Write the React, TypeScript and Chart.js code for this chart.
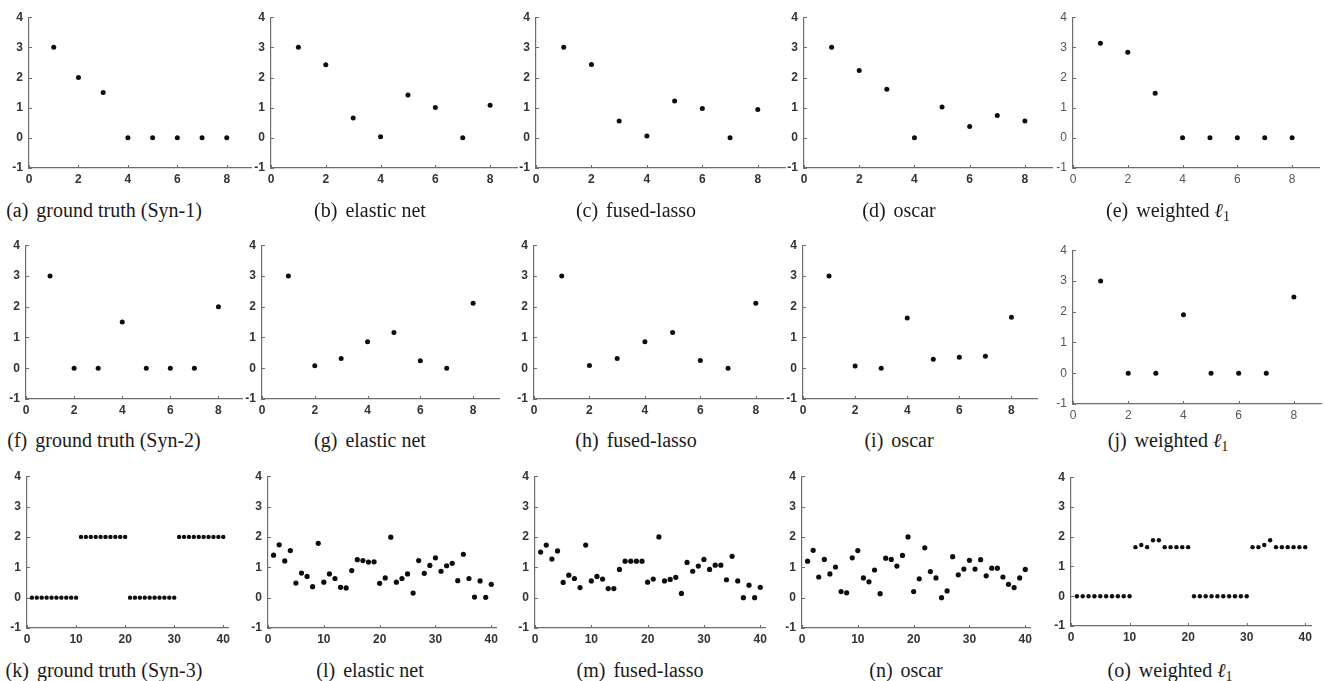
import React, { useEffect, useRef } from 'react';
import { Chart, registerables } from 'chart.js';

Chart.register(...registerables);

// ---------- data ----------
const idx8 = [1, 2, 3, 4, 5, 6, 7, 8];
const idx40 = [
  1, 2, 3, 4, 5, 6, 7, 8, 9, 10, 11, 12, 13, 14, 15, 16, 17, 18, 19, 20,
  21, 22, 23, 24, 25, 26, 27, 28, 29, 30, 31, 32, 33, 34, 35, 36, 37, 38, 39, 40,
];
const xTicks8 = [0, 2, 4, 6, 8];
const xTicks40 = [0, 10, 20, 30, 40];
const yTicks = [-1, 0, 1, 2, 3, 4];

const syn1Truth = [3, 2, 1.5, 0, 0, 0, 0, 0];
const syn1Elastic = [3, 2.42, 0.66, 0.04, 1.42, 1.01, 0, 1.08];
const syn1Fused = [3, 2.43, 0.56, 0.06, 1.22, 0.97, 0, 0.94];
const syn1Oscar = [3, 2.23, 1.61, 0, 1.02, 0.38, 0.74, 0.56];
const syn1Weighted = [3.14, 2.84, 1.48, 0, 0, 0, 0, 0];

const syn2Truth = [3, 0, 0, 1.5, 0, 0, 0, 2];
const syn2Elastic = [3, 0.08, 0.32, 0.86, 1.16, 0.24, 0, 2.11];
const syn2Fused = [3, 0.09, 0.32, 0.86, 1.16, 0.25, 0, 2.11];
const syn2Oscar = [3, 0.07, 0, 1.63, 0.29, 0.36, 0.39, 1.66];
const syn2Weighted = [3, 0, 0, 1.9, 0, 0, 0, 2.48];

const syn3Truth = [
  0, 0, 0, 0, 0, 0, 0, 0, 0, 0, 2, 2, 2, 2, 2, 2, 2, 2, 2, 2,
  0, 0, 0, 0, 0, 0, 0, 0, 0, 0, 2, 2, 2, 2, 2, 2, 2, 2, 2, 2,
];
const syn3Elastic = [
  1.4, 1.74, 1.21, 1.55, 0.48, 0.81, 0.7, 0.36, 1.79, 0.51,
  0.78, 0.63, 0.34, 0.32, 0.89, 1.25, 1.22, 1.17, 1.18, 0.47,
  0.65, 1.99, 0.51, 0.63, 0.78, 0.15, 1.22, 0.8, 1.06, 1.31,
  0.87, 1.05, 1.13, 0.56, 1.43, 0.63, 0.02, 0.55, 0.01, 0.44,
];
const syn3Fused = [
  1.5, 1.73, 1.27, 1.54, 0.5, 0.74, 0.63, 0.33, 1.73, 0.55,
  0.7, 0.61, 0.3, 0.3, 0.93, 1.2, 1.2, 1.2, 1.2, 0.51,
  0.61, 2.0, 0.55, 0.6, 0.67, 0.14, 1.16, 0.87, 1.04, 1.26,
  0.93, 1.07, 1.07, 0.59, 1.36, 0.55, 0.0, 0.41, 0.0, 0.34,
];
const syn3Oscar = [
  1.2, 1.56, 0.68, 1.26, 0.78, 1.01, 0.2, 0.16, 1.31, 1.55,
  0.65, 0.52, 0.91, 0.13, 1.3, 1.26, 1.04, 1.39, 2.0, 0.2,
  0.62, 1.64, 0.86, 0.65, 0.0, 0.22, 1.35, 0.75, 0.94, 1.23,
  0.94, 1.25, 0.72, 0.97, 0.97, 0.68, 0.44, 0.33, 0.65, 0.93,
];
const syn3Weighted = [
  0, 0, 0, 0, 0, 0, 0, 0, 0, 0,
  1.65, 1.72, 1.65, 1.88, 1.88, 1.65, 1.65, 1.65, 1.65, 1.65,
  0, 0, 0, 0, 0, 0, 0, 0, 0, 0,
  1.65, 1.65, 1.72, 1.88, 1.65, 1.65, 1.65, 1.65, 1.65, 1.65,
];

// ---------- styles ----------
const AXIS = '#6e6e6e';
const boldTicks = { font: { family: 'Liberation Sans', weight: 'bold', size: 12 }, color: '#333333' };
const thinTicks = { font: { family: 'Liberation Sans', weight: 'normal', size: 12 }, color: '#555555' };
const narrowTicks = { font: { family: "'Liberation Sans Narrow', 'Liberation Sans'", weight: 'bold', size: 12 }, color: '#333333' };

const PAD_L = 32;
const PAD_T = 9;
const PAD_R = 2;
const PAD_B = 24;

const inwardTicks = {
  id: 'inwardTicks',
  afterDatasetsDraw(chart: any) {
    const { ctx, chartArea: a, scales } = chart;
    const x = scales.x;
    const y = scales.y;
    ctx.save();
    ctx.strokeStyle = AXIS;
    ctx.lineWidth = 1;
    ctx.beginPath();
    for (const t of x.ticks) {
      const px = Math.round(x.getPixelForValue(t.value)) + 0.5;
      ctx.moveTo(px, a.bottom);
      ctx.lineTo(px, a.bottom - 3);
    }
    for (const t of y.ticks) {
      const py = Math.round(y.getPixelForValue(t.value)) + 0.5;
      ctx.moveTo(a.left, py);
      ctx.lineTo(a.left + 3, py);
    }
    ctx.stroke();
    ctx.restore();
  },
};

type PanelProps = {
  xs: number[];
  ys: number[];
  xMax: number;
  xTicks: number[];
  left: number;
  right: number;
  top: number;
  bottom: number;
  tick: any;
  radius: number;
};

function Panel(p: PanelProps) {
  const ref = useRef<HTMLCanvasElement>(null);
  const w = p.right - p.left + PAD_L + PAD_R;
  const h = p.bottom - p.top + PAD_T + PAD_B;
  useEffect(() => {
    if (!ref.current) return;
    const tickFont = { ...p.tick.font };
    const chart = new Chart(ref.current, {
      type: 'scatter',
      data: {
        datasets: [
          {
            data: p.xs.map((x, i) => ({ x, y: p.ys[i] })),
            pointRadius: p.radius,
            pointHoverRadius: p.radius,
            backgroundColor: '#0d0d0d',
            borderWidth: 0,
          },
        ],
      },
      options: {
        animation: false,
        responsive: false,
        maintainAspectRatio: false,
        events: [],
        layout: { padding: { top: PAD_T, right: PAD_R, left: 0, bottom: 0 } },
        plugins: { legend: { display: false }, tooltip: { enabled: false } },
        scales: {
          x: {
            type: 'linear',
            min: 0,
            max: p.xMax,
            afterBuildTicks: (s: any) => {
              s.ticks = p.xTicks.map((v) => ({ value: v }));
            },
            afterFit: (s: any) => {
              s.height = PAD_B;
            },
            grid: { display: true, drawOnChartArea: false, drawTicks: false, color: 'rgba(0,0,0,0)' },
            border: { display: true, color: AXIS, width: 1.2 },
            ticks: { padding: 4, autoSkip: false, maxRotation: 0, font: tickFont, color: p.tick.color },
          },
          y: {
            type: 'linear',
            min: -1,
            max: 4,
            afterBuildTicks: (s: any) => {
              s.ticks = yTicks.map((v) => ({ value: v }));
            },
            afterFit: (s: any) => {
              s.width = PAD_L;
            },
            grid: { display: true, drawOnChartArea: false, drawTicks: false, color: 'rgba(0,0,0,0)' },
            border: { display: true, color: AXIS, width: 1.2 },
            ticks: { padding: 6, autoSkip: false, font: tickFont, color: p.tick.color },
          },
        },
      } as any,
      plugins: [inwardTicks],
    });
    return () => chart.destroy();
  }, []);
  return (
    <canvas
      ref={ref}
      width={w}
      height={h}
      style={{ position: 'absolute', left: p.left - PAD_L, top: p.top - PAD_T, width: w, height: h }}
    />
  );
}

function Caption({ cx, cy, label, children }: { cx: number; cy: number; label: string; children: any }) {
  return (
    <div
      style={{
        position: 'absolute',
        left: cx,
        top: cy - 11,
        transform: 'translateX(-50%)',
        whiteSpace: 'nowrap',
        fontFamily: "'Liberation Serif', 'DejaVu Serif', serif",
        fontSize: 20,
        lineHeight: '22px',
        color: '#1a1a1a',
      }}
    >
      <span style={{ marginRight: 8 }}>{label}</span>
      {children}
    </div>
  );
}

const Ell = () => (
  <span style={{ fontStyle: 'italic' }}>
    ℓ<sub style={{ fontSize: 14, fontStyle: 'normal', verticalAlign: 'baseline', position: 'relative', top: 4 }}>1</sub>
  </span>
);

export default function App() {
  const r1 = { top: 13, bottom: 168 };
  const r2 = { top: 241, bottom: 399 };
  const r3 = { top: 472, bottom: 628 };
  return (
    <div
      style={{
        position: 'absolute',
        left: 0,
        top: 0,
        width: 1324,
        height: 681,
        overflow: 'hidden',
        background: '#ffffff',
      }}
    >
      {/* Row 1 */}
      <Panel xs={idx8} ys={syn1Truth} xMax={9} xTicks={xTicks8} left={29} right={252} {...r1} tick={boldTicks} radius={2.5} />
      <Panel xs={idx8} ys={syn1Elastic} xMax={9} xTicks={xTicks8} left={271} right={518} {...r1} tick={boldTicks} radius={2.5} />
      <Panel xs={idx8} ys={syn1Fused} xMax={9} xTicks={xTicks8} left={536} right={786} {...r1} tick={boldTicks} radius={2.5} />
      <Panel xs={idx8} ys={syn1Oscar} xMax={9} xTicks={xTicks8} left={804} right={1053} {...r1} tick={boldTicks} radius={2.5} />
      <Panel xs={idx8} ys={syn1Weighted} xMax={9} xTicks={xTicks8} left={1073} right={1320} {...r1} tick={thinTicks} radius={2.5} />

      {/* Row 2 */}
      <Panel xs={idx8} ys={syn2Truth} xMax={9} xTicks={xTicks8} left={26} right={243} {...r2} tick={boldTicks} radius={2.5} />
      <Panel xs={idx8} ys={syn2Elastic} xMax={9} xTicks={xTicks8} left={262} right={500} {...r2} tick={boldTicks} radius={2.5} />
      <Panel xs={idx8} ys={syn2Fused} xMax={9} xTicks={xTicks8} left={534} right={784} {...r2} tick={narrowTicks} radius={2.5} />
      <Panel xs={idx8} ys={syn2Oscar} xMax={9} xTicks={xTicks8} left={803} right={1038} {...r2} tick={narrowTicks} radius={2.5} />
      <Panel xs={idx8} ys={syn2Weighted} xMax={9} xTicks={xTicks8} left={1073} right={1322} top={246} bottom={404} tick={thinTicks} radius={2.5} />

      {/* Row 3 */}
      <Panel xs={idx40} ys={syn3Truth} xMax={41} xTicks={xTicks40} left={27} right={232} {...r3} tick={boldTicks} radius={2.2} />
      <Panel xs={idx40} ys={syn3Elastic} xMax={41} xTicks={xTicks40} left={268} right={500} {...r3} tick={boldTicks} radius={2.6} />
      <Panel xs={idx40} ys={syn3Fused} xMax={41} xTicks={xTicks40} left={535} right={769} {...r3} tick={boldTicks} radius={2.6} />
      <Panel xs={idx40} ys={syn3Oscar} xMax={41} xTicks={xTicks40} left={802} right={1034} {...r3} tick={boldTicks} radius={2.6} />
      <Panel xs={idx40} ys={syn3Weighted} xMax={41} xTicks={xTicks40} left={1071} right={1314} top={473} bottom={626} tick={boldTicks} radius={2.2} />

      {/* Captions */}
      <Caption cx={104} cy={210} label="(a)">ground truth (Syn-1)</Caption>
      <Caption cx={370} cy={210} label="(b)">elastic net</Caption>
      <Caption cx={636} cy={210} label="(c)">fused-lasso</Caption>
      <Caption cx={899} cy={210} label="(d)">oscar</Caption>
      <Caption cx={1168} cy={210} label="(e)">weighted <Ell /></Caption>

      <Caption cx={104} cy={440} label="(f)">ground truth (Syn-2)</Caption>
      <Caption cx={370} cy={440} label="(g)">elastic net</Caption>
      <Caption cx={636} cy={440} label="(h)">fused-lasso</Caption>
      <Caption cx={899} cy={440} label="(i)">oscar</Caption>
      <Caption cx={1168} cy={440} label="(j)">weighted <Ell /></Caption>

      <Caption cx={104} cy={670} label="(k)">ground truth (Syn-3)</Caption>
      <Caption cx={370} cy={670} label="(l)">elastic net</Caption>
      <Caption cx={640} cy={670} label="(m)">fused-lasso</Caption>
      <Caption cx={906} cy={670} label="(n)">oscar</Caption>
      <Caption cx={1170} cy={670} label="(o)">weighted <Ell /></Caption>
    </div>
  );
}
